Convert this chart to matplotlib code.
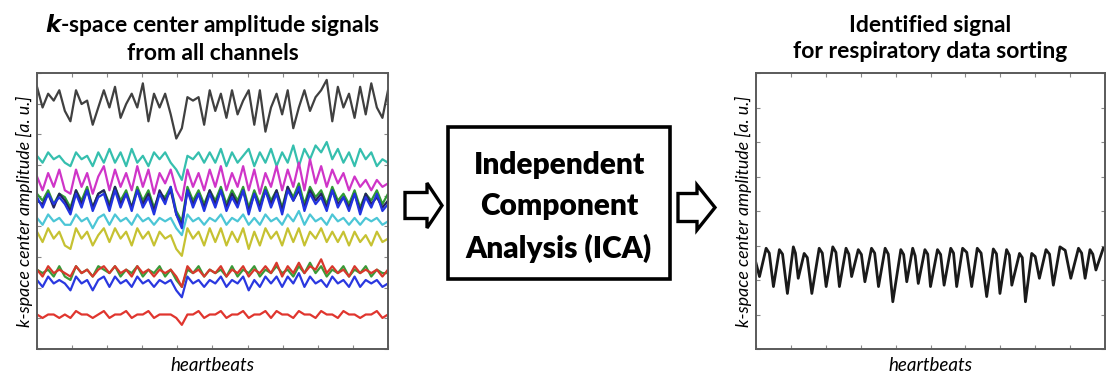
import numpy as np
import matplotlib
matplotlib.use('Agg')
import matplotlib.pyplot as plt
from matplotlib.patches import Rectangle, Polygon

plt.rcParams['font.family'] = ['Lato', 'DejaVu Sans']

# channel signals (a.u., 64 samples over the heartbeat axis)
ch_black = [76, 70, 74, 72, 75, 69, 66, 75, 71, 72, 65, 70, 75, 70, 76, 67, 71, 74, 70, 77, 66, 74, 70, 74, 68, 61, 64, 73, 72, 73, 65, 75,
            69, 74, 67, 75, 68, 72, 75, 65, 75, 63, 70, 74, 68, 75, 64, 70, 75, 69, 73, 75, 78, 66, 76, 70, 74, 67, 76, 68, 77, 70, 67, 75]
ch_teal = [56, 54, 57, 55, 56, 54, 53, 57, 55, 56, 53, 57, 54, 58, 54, 57, 53, 58, 54, 56, 53, 57, 55, 57, 54, 52, 49, 56, 55, 57, 54, 57,
           54, 58, 53, 57, 54, 56, 58, 53, 57, 54, 58, 53, 57, 54, 59, 53, 58, 55, 59, 57, 60, 55, 58, 54, 57, 53, 58, 55, 57, 53, 55, 54]
ch_magenta = [50, 46, 51, 47, 52, 46, 45, 52, 47, 51, 45, 50, 53, 46, 52, 47, 51, 46, 53, 47, 52, 45, 51, 48, 52, 46, 43, 52, 47, 51, 46, 52,
              47, 53, 46, 51, 47, 53, 46, 52, 45, 51, 47, 53, 46, 52, 47, 54, 46, 55, 48, 53, 47, 52, 48, 51, 46, 50, 47, 49, 46, 49, 47, 48]
ch_green = [45, 43, 46, 42, 45, 44, 41, 46, 43, 47, 41, 45, 46, 42, 47, 43, 46, 41, 47, 43, 46, 41, 45, 44, 47, 40, 37, 47, 43, 46, 42, 46,
            43, 47, 42, 46, 43, 47, 41, 46, 42, 47, 43, 46, 41, 47, 44, 48, 42, 47, 44, 46, 42, 47, 43, 45, 42, 46, 41, 45, 43, 46, 42, 45]
ch_blue = [44, 41, 45, 42, 44, 42, 39, 45, 41, 46, 40, 44, 45, 40, 46, 41, 45, 40, 46, 41, 44, 39, 45, 42, 47, 39, 35, 46, 41, 45, 40, 45,
           41, 46, 40, 44, 41, 46, 39, 45, 40, 46, 41, 45, 39, 46, 43, 47, 40, 45, 42, 44, 40, 46, 41, 44, 40, 45, 39, 44, 41, 45, 40, 42]
ch_navy = [43, 42, 45, 41, 45, 43, 40, 46, 42, 46, 41, 45, 46, 41, 47, 42, 45, 41, 46, 42, 45, 40, 46, 43, 46, 39, 36, 46, 42, 45, 41, 46,
           42, 46, 41, 45, 42, 46, 40, 45, 41, 46, 42, 46, 40, 47, 43, 46, 41, 46, 43, 45, 41, 46, 42, 44, 41, 45, 40, 45, 42, 44, 41, 43]
ch_cyan = [38, 36, 39, 37, 38, 36, 36, 39, 37, 38, 35, 38, 39, 36, 39, 37, 38, 36, 39, 37, 38, 36, 38, 37, 38, 35, 33, 39, 37, 38, 36, 38,
           37, 39, 36, 38, 37, 39, 36, 38, 36, 39, 37, 38, 36, 39, 37, 40, 36, 39, 37, 38, 36, 39, 37, 38, 36, 38, 36, 38, 37, 38, 36, 37]
ch_yellow = [34, 31, 35, 32, 34, 30, 29, 35, 32, 34, 30, 33, 35, 31, 35, 32, 34, 30, 35, 32, 34, 30, 34, 32, 33, 29, 27, 35, 32, 34, 30, 35,
             31, 35, 30, 34, 31, 35, 29, 34, 30, 35, 32, 34, 30, 35, 31, 35, 30, 34, 32, 35, 31, 34, 31, 34, 30, 34, 31, 33, 30, 34, 31, 32]
ch_green2 = [23, 22, 23, 21, 24, 21, 20, 24, 22, 23, 21, 24, 23, 22, 24, 21, 23, 22, 24, 21, 23, 22, 24, 21, 23, 20, 18, 23, 22, 24, 21, 23,
             22, 23, 21, 24, 21, 23, 22, 24, 21, 23, 22, 24, 22, 23, 21, 24, 22, 25, 22, 24, 21, 23, 22, 24, 21, 23, 22, 24, 21, 23, 22, 22]
ch_red2 = [23, 21, 24, 22, 23, 22, 21, 24, 22, 23, 21, 23, 24, 22, 24, 22, 23, 21, 24, 22, 23, 21, 23, 22, 23, 21, 18, 24, 22, 23, 21, 23,
           22, 24, 21, 23, 22, 24, 21, 23, 22, 24, 22, 25, 21, 24, 22, 25, 22, 24, 23, 26, 22, 24, 22, 23, 21, 24, 22, 23, 22, 23, 21, 23]
ch_blue2 = [20, 18, 21, 19, 20, 19, 17, 21, 19, 20, 17, 20, 21, 18, 21, 19, 20, 18, 21, 19, 20, 18, 20, 19, 20, 17, 15, 21, 19, 20, 18, 20,
            19, 21, 18, 20, 19, 21, 17, 20, 18, 21, 19, 21, 18, 21, 19, 22, 18, 21, 19, 20, 18, 21, 19, 20, 18, 21, 18, 20, 19, 20, 18, 19]
ch_red = [10, 9, 10, 10, 9, 10, 9, 11, 10, 10, 9, 10, 11, 9, 10, 10, 11, 9, 10, 10, 11, 9, 10, 10, 10, 9, 7, 10, 10, 11, 9, 10,
          10, 11, 9, 10, 10, 11, 9, 10, 10, 11, 9, 11, 10, 10, 9, 11, 10, 10, 9, 11, 10, 10, 9, 11, 10, 10, 9, 10, 10, 11, 9, 10]

channels = [ch_black, ch_teal, ch_magenta, ch_cyan, ch_yellow, ch_green, ch_navy, ch_blue,
            ch_green2, ch_red2, ch_blue2, ch_red]
colors = ['#404040', '#35bfae', '#cf35c8', '#4cc6d6', '#c6c232', '#2f9a34', '#24245e', '#2233e0',
          '#3a9a38', '#d8382c', '#2a38e0', '#e0352e']

# identified respiratory signal (right panel): positions in % of the axis, amplitude in a.u.
resp_x = [0, 1.0, 2.9, 3.8, 5.0, 6.7, 7.6, 9.0, 10.7, 11.3, 12.1, 13.8, 14.7, 16.0, 18.1, 19.0, 20.1,
          22.0, 22.9, 23.9, 25.8, 26.6, 27.4, 29.3, 30.2, 31.2, 33.1, 34.0, 35.1, 37.0, 37.9, 39.2,
          41.5, 42.3, 43.2, 44.9, 45.6, 46.5, 48.4, 49.2, 50.0, 52.0, 52.9, 53.9, 55.8, 56.6, 57.5,
          59.2, 60.4, 61.8, 63.4, 64.5, 66.1, 68.0, 68.9, 69.9, 71.8, 72.6, 73.3, 75.5, 76.3, 77.2,
          79.0, 80.0, 81.2, 83.1, 84.1, 85.2, 87.1, 88.6, 90.2, 92.4, 93.3, 94.3, 95.7, 96.5, 97.4, 99.5]
resp_y = [24.9, 21.0, 29.2, 27.8, 18.1, 28.8, 27.5, 16.1, 29.6, 27.8, 20.5, 27.7, 26.5, 16.1, 29.2, 27.8, 18.1,
          29.6, 28.0, 18.1, 29.2, 27.5, 21.0, 28.8, 27.4, 19.5, 29.2, 27.8, 18.1, 29.2, 27.5, 13.7,
          28.8, 27.4, 19.5, 29.2, 27.0, 19.0, 28.8, 27.5, 18.1, 28.8, 27.4, 18.5, 29.2, 27.8, 18.1,
          29.2, 28.0, 18.1, 29.2, 27.8, 15.2, 29.0, 27.6, 16.1, 28.8, 27.2, 18.5, 27.7, 26.5, 13.7,
          27.7, 26.8, 20.5, 28.8, 27.5, 18.5, 29.6, 28.6, 20.5, 29.2, 27.8, 20.5, 28.8, 27.5, 22.9, 29.2]

W, H = 1106, 380
fig = plt.figure(figsize=(W / 100, H / 100), dpi=100)


def px_axes(x0, y0, x1, y1):
    return fig.add_axes([x0 / W, 1 - y1 / H, (x1 - x0) / W, (y1 - y0) / H])


def style_axes(ax, nx, ny):
    ax.set_xlim(0, 1)
    ax.set_ylim(0, 80)
    ax.set_xticks(np.linspace(0, 1, nx + 1))
    ax.set_yticks(np.linspace(0, 80, ny + 1))
    ax.tick_params(direction='in', length=3, width=0.8, color='#888888',
                   top=True, right=True, labelbottom=False, labelleft=False)
    for s in ax.spines.values():
        s.set_color('#5a5a5a')
        s.set_linewidth(1.4)
    ax.set_xlabel('heartbeats', fontsize=13.5, style='italic', labelpad=6)
    ax.set_ylabel('k-space center amplitude [a. u.]', fontsize=12.8, style='italic', labelpad=3)


ax1 = px_axes(37, 73, 388, 349)
for vals, c in zip(channels, colors):
    ax1.plot(np.linspace(0, 1, len(vals)), vals, color=c, lw=1.6, solid_joinstyle='round')
style_axes(ax1, 10, 9)
ax1.set_title(r'$\bfit{k}$' + '-space center amplitude signals\nfrom all channels',
              fontsize=16.5, fontweight='bold', linespacing=1.3, pad=9)

ax2 = px_axes(756, 73, 1105, 349)
ax2.plot(np.array(resp_x) / 100, resp_y, color='#1a1a1a', lw=2.0, solid_joinstyle='round')
style_axes(ax2, 10, 8)
ax2.set_title('Identified signal\nfor respiratory data sorting',
              fontsize=16.5, fontweight='bold', linespacing=1.3, pad=11)


def fpts(pts):
    return [(x / W, 1 - y / H) for x, y in pts]


# ICA box
fig.patches.append(Rectangle((448 / W, 1 - 279 / H), (670 - 448) / W, (279 - 127) / H,
                             transform=fig.transFigure, fill=False, ec='black', lw=2.6))
fig.text(559 / W, 1 - 207 / H, 'Independent\nComponent\nAnalysis (ICA)', ha='center', va='center',
         fontsize=21.5, fontweight='heavy', linespacing=1.55)


def arrow(x0, xh, x1, yc, sh, hh):
    return [(x0, yc - sh), (xh, yc - sh), (xh, yc - hh), (x1, yc), (xh, yc + hh), (xh, yc + sh), (x0, yc + sh)]


for a in [arrow(405, 427, 442, 205.5, 13, 22.5), arrow(678, 697, 715, 207.5, 14, 22.5)]:
    fig.patches.append(Polygon(fpts(a), closed=True, transform=fig.transFigure,
                               fill=False, ec='black', lw=2.4, joinstyle='miter'))

fig.savefig('out.png', dpi=100)
